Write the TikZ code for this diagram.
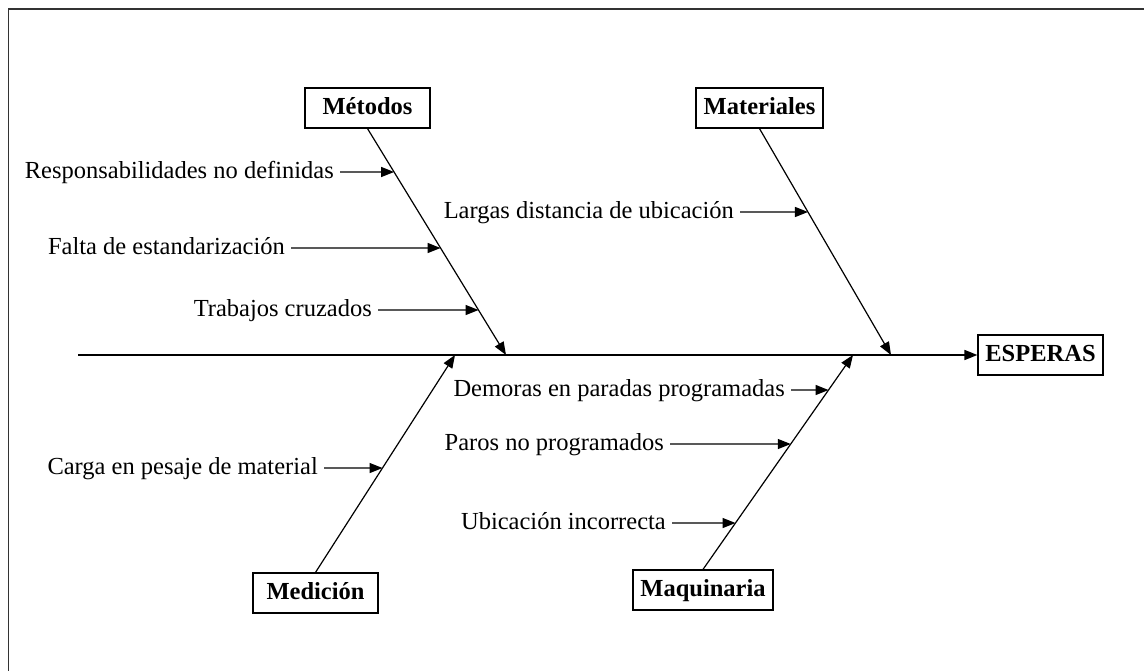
\documentclass[tikz,border=0pt]{standalone}
\usepackage{fontspec}
\setmainfont{Liberation Serif}
\usetikzlibrary{arrows.meta}
\begin{document}
\begin{tikzpicture}[x=1pt,y=-1pt,
  box/.style={draw, line width=1.2pt, font=\bfseries\fontsize{24.5}{29}\selectfont, minimum height=40pt, inner sep=0pt, text height=17pt, text depth=4pt},
  lbl/.style={font=\fontsize{24.5}{29}\selectfont, anchor=east, inner sep=0pt, text height=17pt, text depth=4pt},
  tip/.style={-{Triangle[length=13pt,width=10pt]}},
  bone/.style={line width=1.2pt, tip},
  spine/.style={line width=1.6pt, tip},
  sub/.style={line width=1.4pt, shorten <=6pt, tip},
  frame/.style={line width=1.8pt, draw=black!80},
]
\useasboundingbox (0,0) rectangle (1144,671);
\draw[frame] (1144,9) -- (8.5,9) -- (8.5,671);

% boxes
\node[box, minimum width=125pt] (met) at (367.5,108) {Métodos};
\node[box, minimum width=127pt] (mat) at (759.5,108) {Materiales};
\node[box, minimum width=125pt] (med) at (315.5,593) {Medición};
\node[box, minimum width=140pt] (maq) at (703,590) {Maquinaria};
\node[box, minimum width=125pt] (esp) at (1040.5,355) {ESPERAS};

% spine
\coordinate (s0) at (78,355);
\draw[spine] (s0) -- (esp.west);

% bone ends on spine
\coordinate (mt) at (506,355);
\coordinate (ma) at (891,355);
\coordinate (me) at (455,355);
\coordinate (mq) at (853,355);
\draw[bone] (met.south) -- (mt);
\draw[bone] (mat.south) -- (ma);
\draw[bone] (med.north) -- (me);
\draw[bone] (maq.north) -- (mq);

% labels
\node[lbl] (l1) at (334,172) {Responsabilidades no definidas};
\node[lbl] (l2) at (285,248) {Falta de estandarización};
\node[lbl] (l3) at (372,310) {Trabajos cruzados};
\node[lbl] (l4) at (734,212) {Largas distancia de ubicación};
\node[lbl] (l5) at (318,468) {Carga en pesaje de material};
\node[lbl] (l6) at (785,390) {Demoras en paradas programadas};
\node[lbl] (l7) at (664,444) {Paros no programados};
\node[lbl] (l8) at (666,523) {Ubicación incorrecta};

% tips on bones
\coordinate (p1) at (intersection cs:first line={(met.south)--(mt)}, second line={(l1.east)--([xshift=10pt]l1.east)});
\coordinate (p2) at (intersection cs:first line={(met.south)--(mt)}, second line={(l2.east)--([xshift=10pt]l2.east)});
\coordinate (p3) at (intersection cs:first line={(met.south)--(mt)}, second line={(l3.east)--([xshift=10pt]l3.east)});
\coordinate (p4) at (intersection cs:first line={(mat.south)--(ma)}, second line={(l4.east)--([xshift=10pt]l4.east)});
\coordinate (p5) at (intersection cs:first line={(med.north)--(me)}, second line={(l5.east)--([xshift=10pt]l5.east)});
\coordinate (p6) at (intersection cs:first line={(maq.north)--(mq)}, second line={(l6.east)--([xshift=10pt]l6.east)});
\coordinate (p7) at (intersection cs:first line={(maq.north)--(mq)}, second line={(l7.east)--([xshift=10pt]l7.east)});
\coordinate (p8) at (intersection cs:first line={(maq.north)--(mq)}, second line={(l8.east)--([xshift=10pt]l8.east)});

\foreach \i in {1,...,8} {\draw[sub] (l\i.east) -- (p\i);}
\end{tikzpicture}
\end{document}
